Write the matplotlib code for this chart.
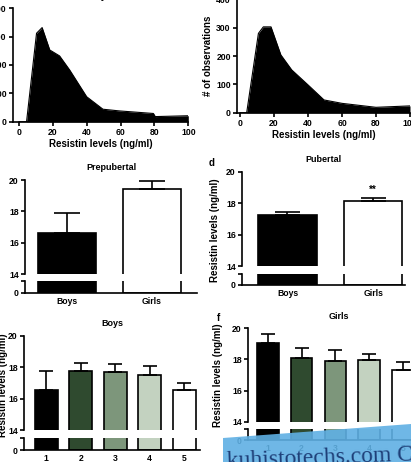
"""Resistin levels: histograms (a, b) and broken-axis bar panels (c-f)."""
import matplotlib

matplotlib.use("Agg")
import matplotlib.pyplot as plt  # noqa: E402
from matplotlib.patches import Polygon  # noqa: E402

W, H = 411, 462

# ---- data ----
hist_boys_x = [0, 4.5, 10.4, 13.7, 18.2, 24, 30, 40, 49.6, 59.4, 79.4, 80.5, 100]
hist_boys_y = [0, 0, 312, 332, 253, 232, 182, 88, 44, 38, 29, 18, 21]
hist_girls_x = [0, 3.9, 10.8, 13.7, 18.2, 24, 30.4, 40, 49.4, 60, 80, 100]
hist_girls_y = [0, 0, 280, 303, 303, 204, 151, 98, 45, 33, 19, 24]

sex_labels = ["Boys", "Girls"]
prepub_mean = [16.64, 19.4]
prepub_err = [1.23, 0.54]
pub_mean = [17.23, 18.14]
pub_err = [0.22, 0.21]

quint_labels = ["1", "2", "3", "4", "5"]
boys_q_mean = [16.55, 17.77, 17.72, 17.47, 16.55]
boys_q_err = [1.22, 0.49, 0.47, 0.62, 0.43]
girls_q_mean = [19.03, 18.07, 17.90, 17.96, 17.32]
girls_q_err = [0.60, 0.68, 0.70, 0.37, 0.49]

sex_colors = ["black", "white"]
quint_colors = ["black", "#2f4a2f", "#7d967b", "#c3d2c0", "white"]

plt.rcParams["font.family"] = ["Liberation Sans", "DejaVu Sans"]
plt.rcParams["font.weight"] = "bold"
FS = 6.2
LW = 1.2

fig = plt.figure(figsize=(W / 100, H / 100), dpi=100)


def ax_px(left, top, right, bottom):
    return fig.add_axes([left / W, 1 - bottom / H, (right - left) / W, (bottom - top) / H])


def style(ax):
    for s in ("top", "right"):
        ax.spines[s].set_visible(False)
    for s in ("left", "bottom"):
        ax.spines[s].set_linewidth(LW)
    ax.tick_params(labelsize=FS, width=LW, length=3, pad=1.5)
    for t in ax.get_xticklabels() + ax.get_yticklabels():
        t.set_fontweight("bold")


def histogram(box, xs, ys, x0, ylabel=None, title=None):
    ax = ax_px(*box)
    ax.fill_between(xs, ys, 0, color="black", lw=0)
    ax.plot(xs, ys, color="black", lw=0.8)
    ax.set_xlim(x0, 100)
    ax.set_ylim(0, 400)
    ax.set_xticks([0, 20, 40, 60, 80, 100])
    ax.set_yticks([0, 100, 200, 300, 400])
    style(ax)
    ax.set_xlabel("Resistin levels (ng/ml)", fontsize=7, fontweight="bold", labelpad=1.5)
    if ylabel:
        ax.set_ylabel(ylabel, fontsize=7, fontweight="bold", labelpad=2)
    if title:
        # sits above the crop, only its lower edge shows
        ax.set_title(title, fontsize=7, fontweight="bold", pad=6.5)
    return ax


def broken_bars(top_box, low_box, xlim, labels, means, errs, colors, width, cap,
                title=None, ylabel=None, stars=None):
    left, top, right, bot14 = top_box
    low_top, low_bot = low_box
    ax_t = ax_px(left, top, right, bot14)
    ax_b = ax_px(left, low_top, right, low_bot)
    pos = list(range(len(means)))
    for ax in (ax_t, ax_b):
        ax.bar(pos, means, width=width, color=colors, edgecolor="black", lw=LW)
        ax.set_xlim(*xlim)
        style(ax)
    ax_t.errorbar(pos, means, yerr=[[0] * len(errs), errs], fmt="none",
                  ecolor="black", elinewidth=LW, capsize=cap, capthick=LW)
    ax_t.set_ylim(14, 20)
    ax_t.set_yticks([14, 16, 18, 20])
    ax_t.spines["bottom"].set_visible(False)
    ax_t.tick_params(axis="x", bottom=False, labelbottom=False)
    ax_b.set_ylim(0, 1)
    ax_b.set_yticks([0, 1])
    ax_b.set_yticklabels(["0", ""])
    ax_b.set_xticks(pos)
    ax_b.set_xticklabels(labels, fontsize=FS, fontweight="bold")
    ax_b.tick_params(axis="x", length=0, pad=3)
    if title:
        ax_t.set_title(title, fontsize=6.5, fontweight="bold", pad=7)
    if ylabel:
        fig.text(ylabel[0] / W, 1 - ylabel[1] / H, "Resistin levels (ng/ml)",
                 rotation=90, ha="center", va="center", fontsize=7, fontweight="bold")
    if stars:
        i, yv = stars
        ax_t.text(i, yv, "**", ha="center", va="center", fontsize=7, fontweight="bold")
    return ax_t, ax_b


# a, b: distributions
histogram((13, 8.3, 188.3, 121.7), hist_boys_x, hist_boys_y, -3.5, title="Boys")
histogram((237, -0.6, 410, 112.7), hist_girls_x, hist_girls_y, -1.8,
          ylabel="# of observations")

# c, d: prepubertal / pubertal
broken_bars((25, 180, 197, 274), (281, 293), (-0.49, 1.53), sex_labels,
            prepub_mean, prepub_err, sex_colors, 0.68, 9.5, title="Prepubertal")
broken_bars((242, 171.7, 405, 266), (274, 285), (-0.53, 1.37), sex_labels,
            pub_mean, pub_err, sex_colors, 0.68, 9.0, title="Pubertal",
            ylabel=(215, 230), stars=(1, 18.85))
fig.text(212 / W, 1 - 163 / H, "d", fontsize=7, fontweight="bold", ha="center", va="center")

# e, f: quintiles
broken_bars((24, 335.7, 200, 430), (437.7, 450), (-0.65, 4.46), quint_labels,
            boys_q_mean, boys_q_err, quint_colors, 0.67, 5.2, title="Boys",
            ylabel=(3, 385))
broken_bars((248, 328.3, 430, 421.7), (429, 440), (-0.58, 4.79), quint_labels,
            girls_q_mean, girls_q_err, quint_colors, 0.64, 5.2, title="Girls",
            ylabel=(218, 375))
fig.text(218 / W, 1 - 318 / H, "f", fontsize=7, fontweight="bold", ha="center", va="center")

# watermark band
band = Polygon([(223 / W, 1 - 438 / H), (411 / W, 1 - 424 / H), (411 / W, 0), (223 / W, 0)],
               closed=True, transform=fig.transFigure, facecolor="#5fb0e4",
               edgecolor="none", alpha=0.9, zorder=10)
fig.patches.append(band)
fig.text(226 / W, 1 - 467 / H, "kuhistotechs.com C", fontsize=17, color="#1e3f78",
         family=["Liberation Serif", "DejaVu Serif"], fontweight="normal",
         ha="left", va="baseline", rotation=2, zorder=11)

fig.savefig("out.png", dpi=100)
